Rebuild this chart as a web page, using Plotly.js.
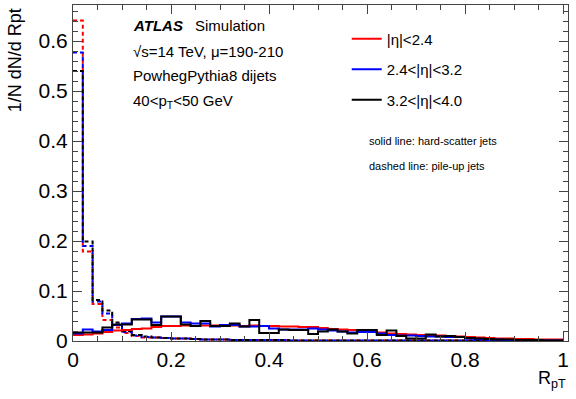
<!DOCTYPE html>
<html>
<head>
<meta charset="utf-8">
<script src="https://cdn.plot.ly/plotly-3.0.1.min.js"></script>
<style>
html,body{margin:0;padding:0;background:#fff;}
#chart{width:576px;height:399px;}
</style>
</head>
<body>
<div id="chart"></div>
<script>
// ---------- Data (bin width 0.02 in RpT, 50 bins) ----------
const binWidth = 0.02;
const etaLabels = ['|η|&lt;2.4', '2.4&lt;|η|&lt;3.2', '3.2&lt;|η|&lt;4.0'];
const etaColors = ['#ff0000', '#0000ff', '#000000'];

// hard-scatter jets (solid)
const hsCentral = [0.012,0.013,0.015,0.018,0.021,0.022,0.024,0.025,0.028,0.030,
                   0.030,0.031,0.030,0.031,0.031,0.030,0.031,0.030,0.031,0.030,
                   0.030,0.029,0.029,0.028,0.028,0.026,0.024,0.023,0.022,0.020,
                   0.018,0.017,0.015,0.014,0.013,0.012,0.012,0.011,0.010,0.009,
                   0.008,0.007,0.006,0.005,0.005,0.004,0.004,0.003,0.003,0.003];
const hsMid     = [0.015,0.023,0.019,0.022,0.032,0.035,0.044,0.045,0.037,0.049,
                   0.049,0.037,0.035,0.035,0.029,0.032,0.032,0.029,0.029,0.030,
                   0.025,0.023,0.023,0.023,0.025,0.023,0.021,0.019,0.017,0.018,
                   0.018,0.015,0.012,0.011,0.011,0.010,0.009,0.009,0.008,0.008,
                   0.005,0.004,0.003,0.003,0.002,0.002,0.002,0.001,0.001,0.001];
const hsFwd     = [0.017,0.017,0.017,0.027,0.033,0.033,0.043,0.043,0.032,0.049,
                   0.049,0.033,0.030,0.040,0.030,0.030,0.035,0.029,0.042,0.016,
                   0.016,0.023,0.022,0.022,0.014,0.019,0.023,0.019,0.015,0.022,
                   0.022,0.012,0.021,0.010,0.005,0.005,0.013,0.009,0.010,0.008,
                   0.006,0.005,0.004,0.003,0.003,0.002,0.002,0.002,0.001,0.001];

// pile-up jets (dashed)
const puCentral = [0.641,0.179,0.074,0.042,0.027,0.016,0.010,0.007,0.007,0.006,
                   0.005,0.005,0.004,0.003,0.003,0.003,0.002,0.002,0.002,0.002,
                   0.002,0.001,0.001,0.001,0.001,0.001,0.001,0.001,0.001,0.001,
                   0.001,0.001,0.001,0.001,0.001,0.001,0.001,0.001,0.001,0.001,
                   0.001,0.001,0.001,0.001,0.001,0.001,0.001,0.001,0.001,0.001];
const puMid     = [0.577,0.190,0.079,0.055,0.033,0.018,0.011,0.008,0.007,0.006,
                   0.005,0.005,0.004,0.003,0.003,0.003,0.002,0.002,0.002,0.002,
                   0.002,0.002,0.001,0.001,0.001,0.001,0.001,0.001,0.001,0.001,
                   0.001,0.001,0.001,0.001,0.001,0.001,0.001,0.001,0.001,0.001,
                   0.001,0.001,0.001,0.001,0.001,0.001,0.001,0.001,0.001,0.001];
const puFwd     = [0.540,0.199,0.082,0.061,0.037,0.020,0.012,0.009,0.007,0.006,
                   0.005,0.005,0.004,0.003,0.003,0.003,0.002,0.002,0.002,0.002,
                   0.002,0.002,0.001,0.001,0.001,0.001,0.001,0.001,0.001,0.001,
                   0.001,0.001,0.001,0.001,0.001,0.001,0.001,0.001,0.001,0.001,
                   0.001,0.001,0.001,0.001,0.001,0.001,0.001,0.001,0.001,0.001];

const FONT = 'Liberation Sans, Arial, Helvetica, sans-serif';

// ---------- Histogram traces ----------
function histTrace(vals, color, dashed, name, showLeg){
    const x = vals.map((v,i)=>i*binWidth);
    x.push(vals.length*binWidth);
    const y = vals.concat([vals[vals.length-1]]);
    return {
        x:x, y:y, type:'scatter', mode:'lines',
        line:{shape:'hv', color:color, width:2, dash: dashed ? '4px,3px' : 'solid'},
        name:name, showlegend:showLeg, legendgroup:name,
        hoverinfo:'skip'
    };
}

const traces = [
    histTrace(puCentral, etaColors[0], true, etaLabels[0], false),
    histTrace(puMid,     etaColors[1], true, etaLabels[1], false),
    histTrace(puFwd,     etaColors[2], true, etaLabels[2], false),
    histTrace(hsCentral, etaColors[0], false, etaLabels[0], true),
    histTrace(hsMid,     etaColors[1], false, etaLabels[1], true),
    histTrace(hsFwd,     etaColors[2], false, etaLabels[2], true)
];

// ---------- Layout ----------
function txt(text, x, y, size, opts){
    return Object.assign({
        text:text, xref:'paper', yref:'paper', x:x, y:y,
        xanchor:'left', yanchor:'middle', showarrow:false,
        font:{family:FONT, size:size, color:'#000'}
    }, opts||{});
}

const layout = {
    width:576, height:399,
    margin:{l:73, r:8, t:5, b:58},
    paper_bgcolor:'#fff', plot_bgcolor:'#fff',
    font:{family:FONT, color:'#000'},
    showlegend:true,
    legend:{
        x:0.553, y:0.948, xanchor:'left', yanchor:'top',
        bgcolor:'rgba(0,0,0,0)', borderwidth:0,
        font:{family:FONT, size:15, color:'#000'},
        tracegroupgap:8, traceorder:'grouped'
    },
    xaxis:{
        range:[0, 1.0102], showgrid:false, zeroline:false,
        showline:true, linecolor:'#444', linewidth:1, mirror:'ticks',
        ticks:'inside', ticklen:9, tickcolor:'#444', tick0:0, dtick:0.2,
        tickfont:{family:FONT, size:21, color:'#000'},
        tickformat:'~g',
        minor:{ticks:'inside', ticklen:5, dtick:0.05, tickcolor:'#444', showgrid:false}
    },
    yaxis:{
        range:[0, 0.672], showgrid:false, zeroline:false,
        showline:true, linecolor:'#444', linewidth:1, mirror:'ticks',
        ticks:'inside', ticklen:9, tickcolor:'#444', tick0:0, dtick:0.1,
        tickfont:{family:FONT, size:21, color:'#000'},
        tickformat:'~g',
        minor:{ticks:'inside', ticklen:5, dtick:0.02, tickcolor:'#444', showgrid:false}
    },
    annotations:[
        txt('<b><i>ATLAS</i></b>', 0.118, 0.940, 15),
        txt('Simulation', 0.243, 0.940, 15),
        txt('√s=14 TeV, μ=190-210', 0.118, 0.861, 15),
        txt('PowhegPythia8 dijets', 0.118, 0.790, 15),
        txt('40&lt;p<sub>T</sub>&lt;50 GeV', 0.118, 0.712, 15),
        txt('solid line: hard-scatter jets', 0.593, 0.596, 11),
        txt('dashed line: pile-up jets', 0.593, 0.522, 11),
        txt('1/N dN/d Rpt', -0.117, 0.836, 18, {xanchor:'center', textangle:-90}),
        txt('R<sub>pT</sub>', 1.0, -0.075, 18, {xanchor:'right', yanchor:'top'})
    ]
};

Plotly.newPlot('chart', traces, layout, {staticPlot:true, displayModeBar:false});
</script>
</body>
</html>
